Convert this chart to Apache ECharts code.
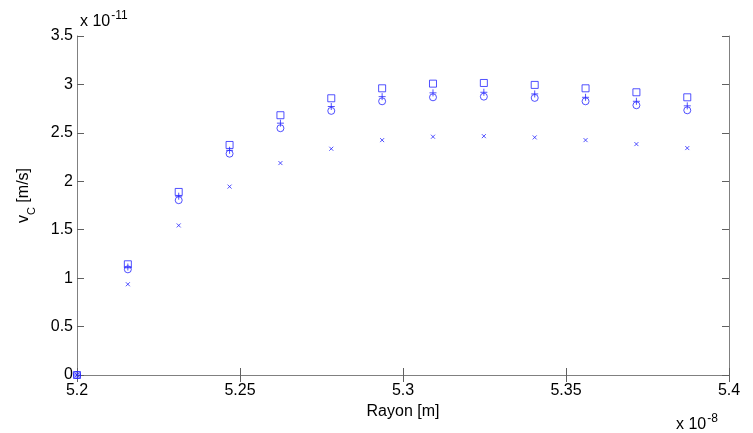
<!DOCTYPE html>
<html>
<head>
<meta charset="utf-8">
<script src="https://cdn.jsdelivr.net/npm/echarts@6/dist/echarts.min.js"></script>
<style>html,body{margin:0;padding:0;background:#fff}#c{width:753px;height:433px}</style>
</head>
<body>
<div id="c"></div>
<script>
// x in units of 1e-8 m, y in units of 1e-11 m/s
var xVals = [5.2, 5.2156, 5.2312, 5.2468, 5.2624, 5.278, 5.2936, 5.3092, 5.3248, 5.3404, 5.356, 5.3716, 5.3872];
var squareVals = [0, 1.143, 1.890, 2.375, 2.682, 2.857, 2.960, 3.008, 3.015, 2.995, 2.960, 2.919, 2.867];
var plusVals   = [0, 1.115, 1.846, 2.320, 2.600, 2.772, 2.874, 2.913, 2.919, 2.902, 2.867, 2.826, 2.779];
var circleVals = [0, 1.091, 1.805, 2.285, 2.548, 2.727, 2.826, 2.867, 2.874, 2.861, 2.826, 2.785, 2.733];
var crossVals  = [0, 0.937, 1.544, 1.945, 2.188, 2.336, 2.425, 2.460, 2.466, 2.453, 2.425, 2.384, 2.343];
var xTicks = [5.2, 5.25, 5.3, 5.35, 5.4];
var yTicks = [0, 0.5, 1, 1.5, 2, 2.5, 3, 3.5];

function pairs(ys) { return xVals.map(function (x, i) { return [x, ys[i]]; }); }

var FONT = 'Liberation Sans, Arial, sans-serif';
var BLUE = '#2626ff';
var axisLine = { show: true, lineStyle: { color: '#808080', width: 1 } };
var tickStyle = { show: true, inside: true, length: 7, lineStyle: { color: '#606060' } };

function mk(name, symbol, size, ys) {
  return {
    name: name, type: 'scatter', data: pairs(ys), symbol: symbol, symbolSize: size,
    xAxisIndex: 0, yAxisIndex: 0,
    itemStyle: { color: 'rgba(0,0,0,0)', borderColor: BLUE, borderWidth: 1 },
    emphasis: { disabled: true }, animation: false
  };
}

var chart = echarts.init(document.getElementById('c'));
chart.setOption({
  animation: false,
  backgroundColor: '#fff',
  textStyle: { fontFamily: FONT },
  grid: { left: 77, right: 24, top: 36, bottom: 58, containLabel: false },
  xAxis: [{
    type: 'value', min: 5.2, max: 5.4, interval: 0.05, position: 'bottom',
    axisLine: axisLine, axisTick: tickStyle, splitLine: { show: false },
    axisLabel: { color: '#000', fontSize: 16, fontFamily: FONT, margin: 8,
      customValues: xTicks,
      formatter: function (v) { return String(Math.round(v * 100) / 100); } },
    name: 'Rayon [m]', nameLocation: 'middle', nameGap: 28,
    nameTextStyle: { color: '#000', fontSize: 16, fontFamily: FONT }
  }, {
    type: 'value', min: 5.2, max: 5.4, interval: 0.05, position: 'top',
    axisLine: axisLine, axisTick: tickStyle, splitLine: { show: false },
    axisLabel: { show: false }
  }],
  yAxis: [{
    type: 'value', min: 0, max: 3.5, interval: 0.5, position: 'left',
    axisLine: axisLine, axisTick: tickStyle, splitLine: { show: false },
    axisLabel: { color: '#000', fontSize: 16, fontFamily: FONT, margin: 4,
      formatter: function (v) { return String(Math.round(v * 10) / 10); } },
    name: 'v{sub|C} [m/s]', nameLocation: 'middle', nameGap: 40, nameRotate: 90,
    nameTextStyle: { color: '#000', fontSize: 16, fontFamily: FONT, padding: [0, 0, 0, 20],
      rich: { sub: { fontSize: 11, fontFamily: FONT, color: '#000', verticalAlign: 'bottom', lineHeight: 26 } } }
  }, {
    type: 'value', min: 0, max: 3.5, interval: 0.5, position: 'right',
    axisLine: axisLine, axisTick: tickStyle, splitLine: { show: false },
    axisLabel: { show: false }
  }],
  graphic: [{
    type: 'text', left: 80, top: 10,
    style: { text: 'x 10{sup|-11}', fill: '#000', font: '16px ' + FONT,
      rich: { sup: { fontSize: 12, fontFamily: FONT, fill: '#000', verticalAlign: 'top', padding: [0, 0, 12, 1] } } }
  }, {
    type: 'text', left: 676, top: 413,
    style: { text: 'x 10{sup|-8}', fill: '#000', font: '16px ' + FONT,
      rich: { sup: { fontSize: 12, fontFamily: FONT, fill: '#000', verticalAlign: 'top', padding: [0, 0, 12, 1] } } }
  }],
  series: [
    mk('square', 'rect', 7, squareVals),
    mk('plus', 'path://M5,0L5,10M0,5L10,5', 7, plusVals),
    mk('circle', 'circle', 7, circleVals),
    mk('cross', 'path://M0,0L10,10M10,0L0,10', 4, crossVals)
  ]
});
</script>
</body>
</html>
